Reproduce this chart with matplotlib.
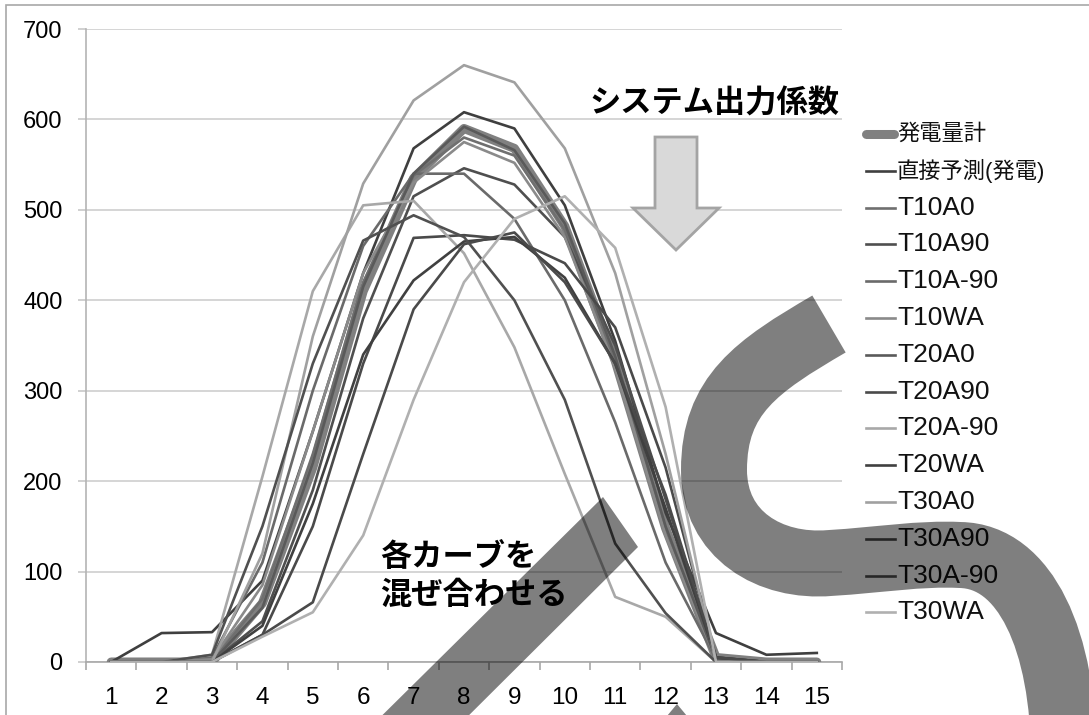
import matplotlib
matplotlib.use("Agg")
import matplotlib.pyplot as plt
from matplotlib.lines import Line2D
from matplotlib.patches import Polygon, PathPatch, Rectangle
from matplotlib.path import Path

plt.rcParams['font.family'] = ['Liberation Sans', 'Noto Sans CJK JP']

hours = list(range(1, 16))

total_gen = [0, 0, 0, 65, 215, 410, 535, 590, 568, 482, 333, 148, 5, 0, 0]
direct_pred = [0, 32, 33, 90, 255, 430, 568, 608, 590, 505, 355, 165, 32, 8, 10]
t10a0 = [0, 0, 0, 70, 230, 420, 538, 580, 560, 478, 330, 142, 3, 0, 0]
t10a90 = [0, 0, 0, 45, 190, 380, 515, 546, 528, 470, 350, 180, 5, 0, 0]
t10am90 = [0, 0, 5, 110, 300, 460, 540, 540, 490, 400, 265, 110, 3, 0, 0]
t10wa = [0, 0, 3, 85, 255, 430, 530, 575, 552, 470, 325, 140, 3, 0, 0]
t20a0 = [0, 0, 0, 60, 220, 415, 540, 592, 566, 485, 338, 150, 3, 0, 0]
t20a90 = [0, 0, 0, 30, 150, 330, 469, 472, 467, 441, 370, 215, 5, 0, 0]
t20am90 = [0, 0, 8, 205, 410, 505, 510, 452, 348, 208, 72, 50, 0, 0, 0]
t20wa = [0, 0, 0, 40, 175, 340, 422, 465, 470, 425, 330, 170, 5, 0, 0]
t30a0 = [0, 0, 0, 120, 360, 529, 621, 660, 641, 568, 430, 230, 0, 0, 0]
t30a90 = [0, 0, 0, 30, 66, 230, 390, 462, 475, 420, 330, 185, 5, 0, 0]
t30am90 = [0, 0, 8, 150, 330, 466, 494, 470, 400, 290, 131, 54, 0, 0, 0]
t30wa = [0, 0, 0, 28, 55, 140, 290, 420, 490, 515, 458, 282, 0, 0, 0]

series_names = ['発電量計', '直接予測(発電)', 'T10A0', 'T10A90', 'T10A-90', 'T10WA',
                'T20A0', 'T20A90', 'T20A-90', 'T20WA', 'T30A0', 'T30A90',
                'T30A-90', 'T30WA']
series_values = [total_gen, direct_pred, t10a0, t10a90, t10am90, t10wa, t20a0,
                 t20a90, t20am90, t20wa, t30a0, t30a90, t30am90, t30wa]
series_colors = ['#808080', '#3f3f3f', '#6f6f6f', '#4f4f4f', '#6a6a6a', '#8a8a8a',
                 '#5a5a5a', '#4a4a4a', '#a8a8a8', '#404040', '#a0a0a0', '#4a4a4a',
                 '#505050', '#b0b0b0']

W, H = 1089, 715
fig = plt.figure(figsize=(W / 100, H / 100), dpi=100)


def fx(x):
    return x / W


def fy(y):
    return 1 - y / H


ax = fig.add_axes([fx(86), fy(662), (842 - 86) / W, (662 - 29) / H])

for name, vals, col in zip(series_names, series_values, series_colors):
    if name == '発電量計':
        ax.plot(hours, vals, color=col, lw=6.5, solid_capstyle='round',
                solid_joinstyle='round', zorder=3)
    else:
        ax.plot(hours, vals, color=col, lw=1.9, zorder=4)

ax.set_xlim(0.5, 15.5)
ax.set_ylim(0, 700)
ax.set_yticks(range(0, 701, 100))
ax.set_xticks(hours)
ax.set_xticks([h + 0.5 for h in range(0, 16)], minor=True)
ax.tick_params(axis='x', which='major', length=0, pad=18, labelsize=17.5)
ax.tick_params(axis='x', which='minor', length=6, width=1.2, color='#a8a8a8')
ax.tick_params(axis='y', length=6, width=1.2, color='#c8c8c8', pad=11, labelsize=17)
ax.yaxis.grid(True, color='#d2d2d2', lw=1.3)
ax.set_axisbelow(True)
for s in ['top', 'right']:
    ax.spines[s].set_visible(False)
ax.spines['left'].set_color('#b4b4b4')
ax.spines['bottom'].set_color('#a8a8a8')
ax.spines['left'].set_linewidth(1.2)
ax.spines['bottom'].set_linewidth(1.2)

# legend rows on the right
row0, step = 134, 36.8
for i, (name, col) in enumerate(zip(series_names, series_colors)):
    yy = fy(row0 + i * step)
    if i == 0:
        fig.add_artist(Line2D([fx(866), fx(894)], [yy, yy], color=col, lw=6.5,
                              solid_capstyle='round'))
    else:
        fig.add_artist(Line2D([fx(866), fx(895)], [yy, yy], color=col, lw=1.9))
    size = 19 if name.isascii() else 16
    fig.text(fx(897), yy, name, fontsize=size, va='center', ha='left', color='#111111')

# outer chart frame
fig.add_artist(Rectangle((fx(6), fy(730)), 1.2, fy(5) - fy(730), fill=False,
                         edgecolor='#a8a8a8', lw=1.2, transform=fig.transFigure))

# block arrow under the caption
arrow_pts = [(655, 137), (697, 137), (697, 208), (719, 208), (676, 250), (633, 208), (655, 208)]
fig.add_artist(Polygon([(fx(x), fy(y)) for x, y in arrow_pts], closed=True,
                       facecolor='#d9d9d9', edgecolor='#a4a4a4', lw=2,
                       transform=fig.transFigure, zorder=5))

fig.text(fx(714), fy(104), 'システム出力係数', fontsize=22.5, fontweight='bold',
         family='Noto Sans CJK JP', ha='center', va='center', zorder=6)
fig.text(fx(380), fy(576), '各カーブを\n混ぜ合わせる', fontsize=22.5, fontweight='bold',
         family='Noto Sans CJK JP', ha='left', va='center', linespacing=1.25, zorder=6)

# translucent S stroke
s_pts = [(829, 324), (757, 366), (714, 395), (714, 470),
         (714, 535), (770, 568), (830, 563),
         (880, 560), (920, 553), (960, 555),
         (1025, 556), (1064, 640), (1064, 760)]
s_codes = [Path.MOVETO] + [Path.CURVE4] * 12
s_path = Path([(fx(x), fy(y)) for x, y in s_pts], s_codes)
fig.add_artist(PathPatch(s_path, fill=False, edgecolor=(0, 0, 0, 0.5), lw=47.5,
                         capstyle='butt', transform=fig.transFigure, zorder=7))

# translucent diagonal band and the tip below the axis
band_pts = [(603, 497), (638, 547), (424, 760), (337, 760)]
fig.add_artist(Polygon([(fx(x), fy(y)) for x, y in band_pts], closed=True,
                       facecolor=(0, 0, 0, 0.5), edgecolor='none',
                       transform=fig.transFigure, zorder=7))
tip_pts = [(667, 716), (677, 704), (687, 716)]
fig.add_artist(Polygon([(fx(x), fy(y)) for x, y in tip_pts], closed=True,
                       facecolor=(0, 0, 0, 0.5), edgecolor='none',
                       transform=fig.transFigure, zorder=7))

fig.savefig('out.png', dpi=100)
